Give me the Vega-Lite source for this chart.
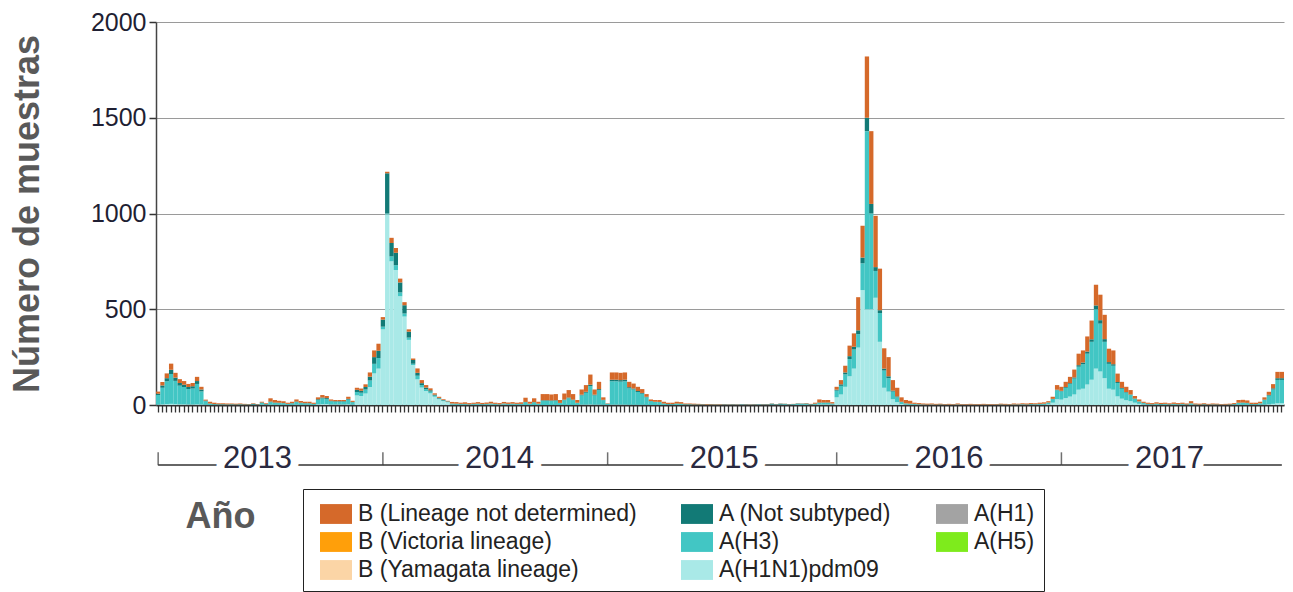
{
"$schema": "https://vega.github.io/schema/vega-lite/v6.json",
"width": 1128, "height": 383,
"autosize": "none",
"padding": {"left": 156, "top": 22, "right": 9, "bottom": 187},
"background": "white",
"config": {"view": {"stroke": null}, "font": "Liberation Sans"},
"datasets": {
"weekly": [
{"w":0,"a_pdm":2,"b_h3":50,"c_ns":7,"d_b":11},
{"w":1,"a_pdm":4,"b_h3":86,"c_ns":12,"d_b":18},
{"w":2,"a_pdm":5,"b_h3":119,"c_ns":16,"d_b":25},
{"w":3,"a_pdm":6,"b_h3":156,"c_ns":22,"d_b":32},
{"w":4,"a_pdm":5,"b_h3":121,"c_ns":17,"d_b":25},
{"w":5,"a_pdm":4,"b_h3":97,"c_ns":14,"d_b":20},
{"w":6,"a_pdm":4,"b_h3":90,"c_ns":12,"d_b":19},
{"w":7,"a_pdm":3,"b_h3":80,"c_ns":11,"d_b":16},
{"w":8,"a_pdm":3,"b_h3":83,"c_ns":12,"d_b":17},
{"w":9,"a_pdm":4,"b_h3":106,"c_ns":15,"d_b":22},
{"w":10,"a_pdm":3,"b_h3":68,"c_ns":10,"d_b":14},
{"w":11,"a_pdm":1,"b_h3":19,"c_ns":3,"d_b":5},
{"w":12,"a_pdm":0,"b_h3":6,"c_ns":2,"d_b":9},
{"w":13,"a_pdm":0,"b_h3":4,"c_ns":1,"d_b":7},
{"w":14,"a_pdm":0,"b_h3":3,"c_ns":1,"d_b":5},
{"w":15,"a_pdm":0,"b_h3":3,"c_ns":1,"d_b":5},
{"w":16,"a_pdm":0,"b_h3":3,"c_ns":0,"d_b":5},
{"w":17,"a_pdm":0,"b_h3":3,"c_ns":1,"d_b":4},
{"w":18,"a_pdm":0,"b_h3":2,"c_ns":1,"d_b":4},
{"w":19,"a_pdm":0,"b_h3":3,"c_ns":1,"d_b":4},
{"w":20,"a_pdm":0,"b_h3":2,"c_ns":1,"d_b":3},
{"w":21,"a_pdm":0,"b_h3":2,"c_ns":1,"d_b":2},
{"w":22,"a_pdm":0,"b_h3":3,"c_ns":3,"d_b":3},
{"w":23,"a_pdm":0,"b_h3":2,"c_ns":1,"d_b":2},
{"w":24,"a_pdm":2,"b_h3":9,"c_ns":2,"d_b":4},
{"w":25,"a_pdm":0,"b_h3":4,"c_ns":1,"d_b":4},
{"w":26,"a_pdm":2,"b_h3":13,"c_ns":3,"d_b":17},
{"w":27,"a_pdm":1,"b_h3":10,"c_ns":2,"d_b":13},
{"w":28,"a_pdm":1,"b_h3":9,"c_ns":2,"d_b":10},
{"w":29,"a_pdm":1,"b_h3":8,"c_ns":2,"d_b":8},
{"w":30,"a_pdm":0,"b_h3":5,"c_ns":1,"d_b":6},
{"w":31,"a_pdm":1,"b_h3":7,"c_ns":2,"d_b":7},
{"w":32,"a_pdm":2,"b_h3":13,"c_ns":3,"d_b":11},
{"w":33,"a_pdm":1,"b_h3":9,"c_ns":2,"d_b":9},
{"w":34,"a_pdm":1,"b_h3":7,"c_ns":2,"d_b":7},
{"w":35,"a_pdm":1,"b_h3":7,"c_ns":2,"d_b":7},
{"w":36,"a_pdm":0,"b_h3":5,"c_ns":1,"d_b":6},
{"w":37,"a_pdm":4,"b_h3":22,"c_ns":4,"d_b":10},
{"w":38,"a_pdm":5,"b_h3":29,"c_ns":5,"d_b":13},
{"w":39,"a_pdm":5,"b_h3":26,"c_ns":5,"d_b":11},
{"w":40,"a_pdm":3,"b_h3":16,"c_ns":3,"d_b":7},
{"w":41,"a_pdm":3,"b_h3":14,"c_ns":3,"d_b":6},
{"w":42,"a_pdm":3,"b_h3":14,"c_ns":3,"d_b":6},
{"w":43,"a_pdm":3,"b_h3":14,"c_ns":3,"d_b":6},
{"w":44,"a_pdm":4,"b_h3":24,"c_ns":4,"d_b":11},
{"w":45,"a_pdm":2,"b_h3":12,"c_ns":2,"d_b":6},
{"w":46,"a_pdm":50,"b_h3":18,"c_ns":11,"d_b":11},
{"w":47,"a_pdm":47,"b_h3":17,"c_ns":10,"d_b":12},
{"w":48,"a_pdm":60,"b_h3":21,"c_ns":13,"d_b":14},
{"w":49,"a_pdm":94,"b_h3":34,"c_ns":20,"d_b":22},
{"w":50,"a_pdm":165,"b_h3":50,"c_ns":35,"d_b":35},
{"w":51,"a_pdm":190,"b_h3":55,"c_ns":38,"d_b":37},
{"w":52,"a_pdm":395,"b_h3":14,"c_ns":37,"d_b":13},
{"w":53,"a_pdm":995,"b_h3":5,"c_ns":210,"d_b":8},
{"w":54,"a_pdm":750,"b_h3":26,"c_ns":70,"d_b":27},
{"w":55,"a_pdm":705,"b_h3":25,"c_ns":65,"d_b":25},
{"w":56,"a_pdm":568,"b_h3":20,"c_ns":52,"d_b":20},
{"w":57,"a_pdm":462,"b_h3":16,"c_ns":43,"d_b":16},
{"w":58,"a_pdm":340,"b_h3":12,"c_ns":31,"d_b":12},
{"w":59,"a_pdm":209,"b_h3":7,"c_ns":19,"d_b":8},
{"w":60,"a_pdm":134,"b_h3":19,"c_ns":15,"d_b":23},
{"w":61,"a_pdm":91,"b_h3":13,"c_ns":10,"d_b":16},
{"w":62,"a_pdm":73,"b_h3":10,"c_ns":8,"d_b":13},
{"w":63,"a_pdm":61,"b_h3":9,"c_ns":7,"d_b":10},
{"w":64,"a_pdm":43,"b_h3":6,"c_ns":5,"d_b":7},
{"w":65,"a_pdm":30,"b_h3":4,"c_ns":3,"d_b":6},
{"w":66,"a_pdm":20,"b_h3":3,"c_ns":3,"d_b":4},
{"w":67,"a_pdm":14,"b_h3":3,"c_ns":2,"d_b":3},
{"w":68,"a_pdm":2,"b_h3":5,"c_ns":1,"d_b":8},
{"w":69,"a_pdm":1,"b_h3":5,"c_ns":1,"d_b":8},
{"w":70,"a_pdm":1,"b_h3":4,"c_ns":1,"d_b":6},
{"w":71,"a_pdm":1,"b_h3":4,"c_ns":1,"d_b":8},
{"w":72,"a_pdm":1,"b_h3":3,"c_ns":0,"d_b":6},
{"w":73,"a_pdm":1,"b_h3":4,"c_ns":1,"d_b":6},
{"w":74,"a_pdm":1,"b_h3":5,"c_ns":1,"d_b":8},
{"w":75,"a_pdm":1,"b_h3":3,"c_ns":1,"d_b":6},
{"w":76,"a_pdm":1,"b_h3":4,"c_ns":1,"d_b":7},
{"w":77,"a_pdm":2,"b_h3":5,"c_ns":1,"d_b":9},
{"w":78,"a_pdm":1,"b_h3":4,"c_ns":1,"d_b":6},
{"w":79,"a_pdm":1,"b_h3":3,"c_ns":0,"d_b":6},
{"w":80,"a_pdm":2,"b_h3":5,"c_ns":1,"d_b":8},
{"w":81,"a_pdm":1,"b_h3":4,"c_ns":1,"d_b":7},
{"w":82,"a_pdm":1,"b_h3":5,"c_ns":1,"d_b":8},
{"w":83,"a_pdm":1,"b_h3":4,"c_ns":1,"d_b":6},
{"w":84,"a_pdm":1,"b_h3":4,"c_ns":1,"d_b":8},
{"w":85,"a_pdm":0,"b_h3":14,"c_ns":2,"d_b":22},
{"w":86,"a_pdm":0,"b_h3":6,"c_ns":1,"d_b":10},
{"w":87,"a_pdm":0,"b_h3":13,"c_ns":2,"d_b":20},
{"w":88,"a_pdm":0,"b_h3":6,"c_ns":1,"d_b":10},
{"w":89,"a_pdm":0,"b_h3":22,"c_ns":3,"d_b":32},
{"w":90,"a_pdm":0,"b_h3":22,"c_ns":3,"d_b":32},
{"w":91,"a_pdm":0,"b_h3":21,"c_ns":3,"d_b":31},
{"w":92,"a_pdm":0,"b_h3":22,"c_ns":3,"d_b":32},
{"w":93,"a_pdm":0,"b_h3":10,"c_ns":1,"d_b":15},
{"w":94,"a_pdm":0,"b_h3":25,"c_ns":3,"d_b":32},
{"w":95,"a_pdm":0,"b_h3":35,"c_ns":4,"d_b":39},
{"w":96,"a_pdm":0,"b_h3":25,"c_ns":3,"d_b":29},
{"w":97,"a_pdm":0,"b_h3":11,"c_ns":1,"d_b":14},
{"w":98,"a_pdm":2,"b_h3":48,"c_ns":4,"d_b":27},
{"w":99,"a_pdm":2,"b_h3":62,"c_ns":5,"d_b":35},
{"w":100,"a_pdm":3,"b_h3":95,"c_ns":8,"d_b":53},
{"w":101,"a_pdm":2,"b_h3":48,"c_ns":4,"d_b":27},
{"w":102,"a_pdm":2,"b_h3":75,"c_ns":6,"d_b":38},
{"w":103,"a_pdm":1,"b_h3":24,"c_ns":2,"d_b":13},
{"w":104,"a_pdm":0,"b_h3":6,"c_ns":1,"d_b":2},
{"w":105,"a_pdm":2,"b_h3":122,"c_ns":8,"d_b":38},
{"w":106,"a_pdm":2,"b_h3":122,"c_ns":8,"d_b":38},
{"w":107,"a_pdm":2,"b_h3":120,"c_ns":8,"d_b":38},
{"w":108,"a_pdm":2,"b_h3":122,"c_ns":8,"d_b":38},
{"w":109,"a_pdm":1,"b_h3":86,"c_ns":6,"d_b":28},
{"w":110,"a_pdm":1,"b_h3":80,"c_ns":5,"d_b":26},
{"w":111,"a_pdm":1,"b_h3":67,"c_ns":5,"d_b":22},
{"w":112,"a_pdm":1,"b_h3":58,"c_ns":4,"d_b":20},
{"w":113,"a_pdm":0,"b_h3":40,"c_ns":3,"d_b":14},
{"w":114,"a_pdm":0,"b_h3":19,"c_ns":2,"d_b":8},
{"w":115,"a_pdm":0,"b_h3":16,"c_ns":1,"d_b":9},
{"w":116,"a_pdm":0,"b_h3":15,"c_ns":1,"d_b":10},
{"w":117,"a_pdm":0,"b_h3":6,"c_ns":2,"d_b":9},
{"w":118,"a_pdm":0,"b_h3":4,"c_ns":1,"d_b":7},
{"w":119,"a_pdm":0,"b_h3":4,"c_ns":1,"d_b":7},
{"w":120,"a_pdm":0,"b_h3":6,"c_ns":2,"d_b":9},
{"w":121,"a_pdm":0,"b_h3":5,"c_ns":2,"d_b":8},
{"w":122,"a_pdm":0,"b_h3":3,"c_ns":1,"d_b":4},
{"w":123,"a_pdm":0,"b_h3":3,"c_ns":1,"d_b":4},
{"w":124,"a_pdm":0,"b_h3":2,"c_ns":1,"d_b":4},
{"w":125,"a_pdm":0,"b_h3":2,"c_ns":1,"d_b":3},
{"w":126,"a_pdm":0,"b_h3":2,"c_ns":1,"d_b":2},
{"w":127,"a_pdm":0,"b_h3":2,"c_ns":0,"d_b":3},
{"w":128,"a_pdm":0,"b_h3":1,"c_ns":1,"d_b":2},
{"w":129,"a_pdm":0,"b_h3":2,"c_ns":0,"d_b":2},
{"w":130,"a_pdm":0,"b_h3":1,"c_ns":0,"d_b":2},
{"w":131,"a_pdm":0,"b_h3":1,"c_ns":1,"d_b":1},
{"w":132,"a_pdm":0,"b_h3":1,"c_ns":0,"d_b":1},
{"w":133,"a_pdm":0,"b_h3":1,"c_ns":1,"d_b":1},
{"w":134,"a_pdm":0,"b_h3":1,"c_ns":0,"d_b":1},
{"w":135,"a_pdm":0,"b_h3":1,"c_ns":1,"d_b":0},
{"w":136,"a_pdm":0,"b_h3":1,"c_ns":1,"d_b":1},
{"w":137,"a_pdm":0,"b_h3":1,"c_ns":0,"d_b":1},
{"w":138,"a_pdm":0,"b_h3":1,"c_ns":1,"d_b":1},
{"w":139,"a_pdm":0,"b_h3":1,"c_ns":1,"d_b":0},
{"w":140,"a_pdm":0,"b_h3":1,"c_ns":1,"d_b":1},
{"w":141,"a_pdm":0,"b_h3":1,"c_ns":1,"d_b":1},
{"w":142,"a_pdm":1,"b_h3":2,"c_ns":4,"d_b":1},
{"w":143,"a_pdm":0,"b_h3":2,"c_ns":1,"d_b":1},
{"w":144,"a_pdm":1,"b_h3":2,"c_ns":4,"d_b":1},
{"w":145,"a_pdm":1,"b_h3":3,"c_ns":2,"d_b":1},
{"w":146,"a_pdm":0,"b_h3":2,"c_ns":1,"d_b":1},
{"w":147,"a_pdm":1,"b_h3":3,"c_ns":1,"d_b":1},
{"w":148,"a_pdm":1,"b_h3":5,"c_ns":2,"d_b":1},
{"w":149,"a_pdm":1,"b_h3":4,"c_ns":2,"d_b":1},
{"w":150,"a_pdm":1,"b_h3":5,"c_ns":2,"d_b":2},
{"w":151,"a_pdm":0,"b_h3":3,"c_ns":1,"d_b":2},
{"w":152,"a_pdm":1,"b_h3":4,"c_ns":2,"d_b":5},
{"w":153,"a_pdm":3,"b_h3":8,"c_ns":2,"d_b":16},
{"w":154,"a_pdm":3,"b_h3":8,"c_ns":2,"d_b":13},
{"w":155,"a_pdm":3,"b_h3":8,"c_ns":2,"d_b":13},
{"w":156,"a_pdm":2,"b_h3":5,"c_ns":1,"d_b":7},
{"w":157,"a_pdm":40,"b_h3":35,"c_ns":5,"d_b":15},
{"w":158,"a_pdm":55,"b_h3":45,"c_ns":8,"d_b":22},
{"w":159,"a_pdm":95,"b_h3":65,"c_ns":10,"d_b":35},
{"w":160,"a_pdm":150,"b_h3":90,"c_ns":15,"d_b":55},
{"w":161,"a_pdm":190,"b_h3":100,"c_ns":14,"d_b":70},
{"w":162,"a_pdm":300,"b_h3":70,"c_ns":20,"d_b":173},
{"w":163,"a_pdm":600,"b_h3":140,"c_ns":30,"d_b":166},
{"w":164,"a_pdm":500,"b_h3":930,"c_ns":70,"d_b":320},
{"w":165,"a_pdm":500,"b_h3":500,"c_ns":50,"d_b":380},
{"w":166,"a_pdm":560,"b_h3":140,"c_ns":20,"d_b":268},
{"w":167,"a_pdm":330,"b_h3":150,"c_ns":15,"d_b":217},
{"w":168,"a_pdm":90,"b_h3":90,"c_ns":10,"d_b":106},
{"w":169,"a_pdm":70,"b_h3":70,"c_ns":10,"d_b":100},
{"w":170,"a_pdm":30,"b_h3":40,"c_ns":5,"d_b":55},
{"w":171,"a_pdm":15,"b_h3":25,"c_ns":5,"d_b":45},
{"w":172,"a_pdm":5,"b_h3":10,"c_ns":2,"d_b":23},
{"w":173,"a_pdm":2,"b_h3":6,"c_ns":1,"d_b":17},
{"w":174,"a_pdm":1,"b_h3":5,"c_ns":1,"d_b":15},
{"w":175,"a_pdm":1,"b_h3":4,"c_ns":1,"d_b":6},
{"w":176,"a_pdm":1,"b_h3":3,"c_ns":0,"d_b":6},
{"w":177,"a_pdm":1,"b_h3":2,"c_ns":0,"d_b":5},
{"w":178,"a_pdm":0,"b_h3":2,"c_ns":0,"d_b":5},
{"w":179,"a_pdm":1,"b_h3":2,"c_ns":0,"d_b":5},
{"w":180,"a_pdm":0,"b_h3":2,"c_ns":0,"d_b":4},
{"w":181,"a_pdm":0,"b_h3":2,"c_ns":1,"d_b":4},
{"w":182,"a_pdm":0,"b_h3":2,"c_ns":0,"d_b":3},
{"w":183,"a_pdm":0,"b_h3":2,"c_ns":0,"d_b":4},
{"w":184,"a_pdm":0,"b_h3":2,"c_ns":0,"d_b":3},
{"w":185,"a_pdm":1,"b_h3":2,"c_ns":0,"d_b":5},
{"w":186,"a_pdm":0,"b_h3":2,"c_ns":0,"d_b":3},
{"w":187,"a_pdm":0,"b_h3":1,"c_ns":0,"d_b":3},
{"w":188,"a_pdm":0,"b_h3":2,"c_ns":0,"d_b":4},
{"w":189,"a_pdm":0,"b_h3":2,"c_ns":0,"d_b":3},
{"w":190,"a_pdm":0,"b_h3":1,"c_ns":0,"d_b":3},
{"w":191,"a_pdm":0,"b_h3":2,"c_ns":0,"d_b":4},
{"w":192,"a_pdm":0,"b_h3":2,"c_ns":0,"d_b":3},
{"w":193,"a_pdm":0,"b_h3":1,"c_ns":0,"d_b":3},
{"w":194,"a_pdm":0,"b_h3":2,"c_ns":0,"d_b":3},
{"w":195,"a_pdm":0,"b_h3":2,"c_ns":1,"d_b":4},
{"w":196,"a_pdm":0,"b_h3":2,"c_ns":0,"d_b":4},
{"w":197,"a_pdm":0,"b_h3":2,"c_ns":0,"d_b":3},
{"w":198,"a_pdm":1,"b_h3":2,"c_ns":0,"d_b":5},
{"w":199,"a_pdm":1,"b_h3":2,"c_ns":0,"d_b":4},
{"w":200,"a_pdm":1,"b_h3":3,"c_ns":0,"d_b":5},
{"w":201,"a_pdm":1,"b_h3":2,"c_ns":0,"d_b":5},
{"w":202,"a_pdm":1,"b_h3":3,"c_ns":1,"d_b":5},
{"w":203,"a_pdm":1,"b_h3":3,"c_ns":0,"d_b":5},
{"w":204,"a_pdm":1,"b_h3":4,"c_ns":1,"d_b":6},
{"w":205,"a_pdm":1,"b_h3":5,"c_ns":1,"d_b":7},
{"w":206,"a_pdm":4,"b_h3":8,"c_ns":1,"d_b":7},
{"w":207,"a_pdm":12,"b_h3":19,"c_ns":1,"d_b":11},
{"w":208,"a_pdm":30,"b_h3":47,"c_ns":3,"d_b":24},
{"w":209,"a_pdm":28,"b_h3":43,"c_ns":3,"d_b":21},
{"w":210,"a_pdm":36,"b_h3":54,"c_ns":4,"d_b":27},
{"w":211,"a_pdm":44,"b_h3":66,"c_ns":4,"d_b":33},
{"w":212,"a_pdm":55,"b_h3":83,"c_ns":6,"d_b":41},
{"w":213,"a_pdm":80,"b_h3":120,"c_ns":8,"d_b":60},
{"w":214,"a_pdm":85,"b_h3":128,"c_ns":9,"d_b":63},
{"w":215,"a_pdm":107,"b_h3":161,"c_ns":11,"d_b":79},
{"w":216,"a_pdm":132,"b_h3":198,"c_ns":13,"d_b":98},
{"w":217,"a_pdm":190,"b_h3":310,"c_ns":20,"d_b":108},
{"w":218,"a_pdm":175,"b_h3":250,"c_ns":18,"d_b":133},
{"w":219,"a_pdm":140,"b_h3":190,"c_ns":14,"d_b":127},
{"w":220,"a_pdm":85,"b_h3":130,"c_ns":9,"d_b":70},
{"w":221,"a_pdm":80,"b_h3":125,"c_ns":8,"d_b":72},
{"w":222,"a_pdm":45,"b_h3":70,"c_ns":5,"d_b":44},
{"w":223,"a_pdm":33,"b_h3":52,"c_ns":4,"d_b":32},
{"w":224,"a_pdm":25,"b_h3":40,"c_ns":3,"d_b":27},
{"w":225,"a_pdm":20,"b_h3":33,"c_ns":2,"d_b":23},
{"w":226,"a_pdm":12,"b_h3":20,"c_ns":2,"d_b":13},
{"w":227,"a_pdm":6,"b_h3":12,"c_ns":1,"d_b":10},
{"w":228,"a_pdm":3,"b_h3":7,"c_ns":1,"d_b":6},
{"w":229,"a_pdm":1,"b_h3":4,"c_ns":1,"d_b":6},
{"w":230,"a_pdm":0,"b_h3":4,"c_ns":0,"d_b":6},
{"w":231,"a_pdm":1,"b_h3":5,"c_ns":1,"d_b":7},
{"w":232,"a_pdm":0,"b_h3":4,"c_ns":1,"d_b":6},
{"w":233,"a_pdm":1,"b_h3":4,"c_ns":1,"d_b":6},
{"w":234,"a_pdm":0,"b_h3":3,"c_ns":1,"d_b":5},
{"w":235,"a_pdm":1,"b_h3":4,"c_ns":1,"d_b":7},
{"w":236,"a_pdm":0,"b_h3":4,"c_ns":0,"d_b":6},
{"w":237,"a_pdm":1,"b_h3":4,"c_ns":1,"d_b":6},
{"w":238,"a_pdm":0,"b_h3":3,"c_ns":0,"d_b":5},
{"w":239,"a_pdm":1,"b_h3":7,"c_ns":1,"d_b":11},
{"w":240,"a_pdm":0,"b_h3":3,"c_ns":0,"d_b":5},
{"w":241,"a_pdm":0,"b_h3":2,"c_ns":0,"d_b":5},
{"w":242,"a_pdm":0,"b_h3":3,"c_ns":1,"d_b":5},
{"w":243,"a_pdm":0,"b_h3":2,"c_ns":0,"d_b":4},
{"w":244,"a_pdm":0,"b_h3":3,"c_ns":0,"d_b":5},
{"w":245,"a_pdm":0,"b_h3":2,"c_ns":1,"d_b":4},
{"w":246,"a_pdm":0,"b_h3":2,"c_ns":0,"d_b":3},
{"w":247,"a_pdm":0,"b_h3":2,"c_ns":0,"d_b":4},
{"w":248,"a_pdm":0,"b_h3":2,"c_ns":1,"d_b":4},
{"w":249,"a_pdm":1,"b_h3":3,"c_ns":1,"d_b":5},
{"w":250,"a_pdm":1,"b_h3":10,"c_ns":1,"d_b":14},
{"w":251,"a_pdm":1,"b_h3":10,"c_ns":2,"d_b":14},
{"w":252,"a_pdm":1,"b_h3":9,"c_ns":1,"d_b":13},
{"w":253,"a_pdm":0,"b_h3":4,"c_ns":1,"d_b":7},
{"w":254,"a_pdm":0,"b_h3":4,"c_ns":1,"d_b":7},
{"w":255,"a_pdm":1,"b_h3":7,"c_ns":1,"d_b":8},
{"w":256,"a_pdm":2,"b_h3":24,"c_ns":2,"d_b":12},
{"w":257,"a_pdm":4,"b_h3":45,"c_ns":4,"d_b":16},
{"w":258,"a_pdm":6,"b_h3":75,"c_ns":6,"d_b":22},
{"w":259,"a_pdm":9,"b_h3":122,"c_ns":9,"d_b":33},
{"w":260,"a_pdm":9,"b_h3":122,"c_ns":9,"d_b":33}
],
"years": [
{"yr":"2013","s":0,"e":52,"m":23},
{"yr":"2014","s":52,"e":104,"m":79},
{"yr":"2015","s":104,"e":157,"m":131},
{"yr":"2016","s":157,"e":209,"m":183},
{"yr":"2017","s":209,"e":260,"m":234}
]
},
"layer": [
{
"data": {"name": "weekly"},
"transform": [{"fold": ["a_pdm","b_h3","c_ns","d_b"], "as": ["k","v"]}],
"mark": {"type": "bar"},
"encoding": {
"x": {"field": "w", "type": "ordinal", "title": "Año",
 "scale": {"paddingInner": 0, "paddingOuter": 0},
 "axis": {"labels": false, "ticks": true, "tickSize": 7, "tickWidth": 1.3, "tickColor": "#333",
  "domainColor": "#333", "domainWidth": 2, "grid": false,
  "titleFontSize": 36, "titleFontWeight": "bold", "titleColor": "#595959",
  "titleAnchor": "start", "titleAlign": "left", "titleBaseline": "alphabetic", "titleX": 29, "titleY": 122}},
"y": {"field": "v", "type": "quantitative", "stack": "zero", "title": "Número de muestras",
 "scale": {"domain": [0, 2000]},
 "axis": {"values": [0,500,1000,1500,2000], "format": "d", "grid": true, "gridColor": "#9a9a9a", "gridWidth": 1.2,
  "domainColor": "#444", "domainWidth": 1.5, "tickSize": 7, "tickColor": "#333", "tickWidth": 1.5,
  "labelFontSize": 25, "labelColor": "#1f1f33", "labelPadding": 3,
  "titleFontSize": 36, "titleFontWeight": "bold", "titleColor": "#595959", "titlePadding": 44}},
"color": {"field": "k", "type": "nominal",
 "scale": {"domain": ["d_b","e_vic","f_yam","c_ns","b_h3","a_pdm","g_h1","h_h5"],
  "range": ["#D5692A","#FF9F0A","#FBD5A6","#127A76","#42C6C4","#A9E9E7","#A3A3A3","#7EEB1C"]},
 "legend": {"title": null, "orient": "none", "legendX": 147, "legendY": 467, "columns": 3,
  "symbolType": "M-0.5,-0.62H1.5V0.62H-0.5Z", "symbolSize": 1024, "symbolStrokeWidth": 0, "symbolOpacity": 1,
  "labelFontSize": 23, "labelColor": "#222", "labelOffset": 14, "labelLimit": 400,
  "padding": 9, "rowPadding": -7, "columnPadding": 36,
  "strokeColor": "#222", "fillColor": "white",
  "labelExpr": "datum.value == 'a_pdm' ? 'A(H1N1)pdm09' : datum.value == 'b_h3' ? 'A(H3)' : datum.value == 'c_ns' ? 'A (Not subtyped)' : datum.value == 'd_b' ? 'B (Lineage not determined)' : datum.value == 'e_vic' ? 'B (Victoria lineage)' : datum.value == 'f_yam' ? 'B (Yamagata lineage)' : datum.value == 'g_h1' ? 'A(H1)' : 'A(H5)'"}},
"order": {"field": "k", "type": "nominal", "sort": "ascending"}
}
},
{
"data": {"name": "years"},
"mark": {"type": "rule", "color": "#333", "strokeWidth": 1.5},
"encoding": {"x": {"field": "s", "type": "ordinal"}, "x2": {"field": "e"}, "y": {"datum": -313}}
},
{
"data": {"name": "years"},
"mark": {"type": "tick", "orient": "vertical", "size": 13, "thickness": 1.5, "color": "#333"},
"encoding": {"x": {"field": "s", "type": "ordinal"}, "y": {"datum": -281}}
},
{
"data": {"name": "years"},
"mark": {"type": "text", "fontSize": 31, "fill": "white", "stroke": "white", "strokeWidth": 16, "baseline": "alphabetic", "align": "center"},
"encoding": {"x": {"field": "m", "type": "ordinal"}, "y": {"datum": -329}, "text": {"field": "yr"}}
},
{
"data": {"name": "years"},
"mark": {"type": "text", "fontSize": 31, "color": "#2a2a40", "baseline": "alphabetic", "align": "center"},
"encoding": {"x": {"field": "m", "type": "ordinal"}, "y": {"datum": -329}, "text": {"field": "yr"}}
}
]
}
